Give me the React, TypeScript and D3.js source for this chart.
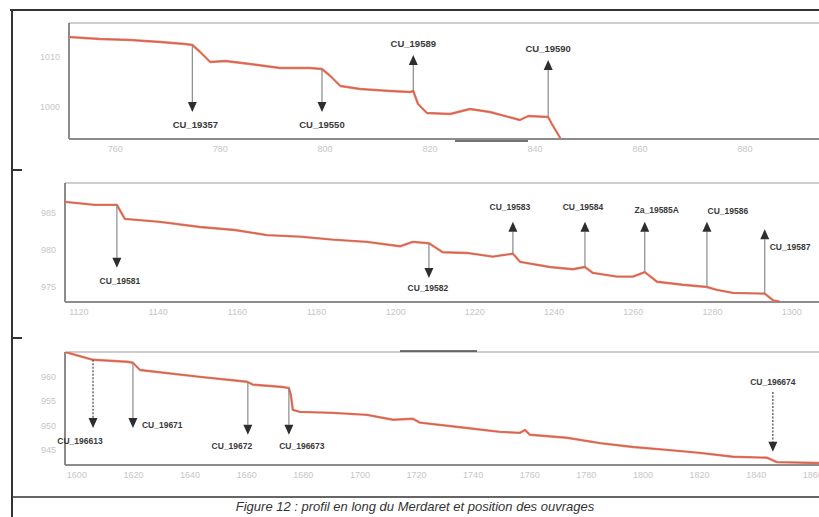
import * as d3 from "d3";
import React, { useEffect } from "react";

const W = 819;
const H = 517;

// ---- panel 1 : profil amont (distance m / altitude m)
const p1Dist = [751.2, 757.1, 762.9, 768.6, 773.3, 774.7, 776.2, 778.1, 781.0, 785.7, 791.4, 797.1, 799.4, 801.0, 802.9, 806.7, 812.4, 816.2, 816.8, 817.7, 819.4, 823.8, 827.6, 831.4, 837.1, 838.7, 842.5, 843.2, 844.8];
const p1Elev = [1014.0, 1013.6, 1013.4, 1013.0, 1012.6, 1012.4, 1011.0, 1009.0, 1009.2, 1008.6, 1007.8, 1007.8, 1007.6, 1006.2, 1004.2, 1003.6, 1003.2, 1003.0, 1003.2, 1000.6, 998.8, 998.6, 999.6, 999.0, 997.4, 998.2, 998.0, 996.6, 993.8];
const p1XTicks = [760, 780, 800, 820, 840, 860, 880];
const p1YTicks = [1010, 1000];
const p1Names = ["CU_19357", "CU_19550", "CU_19589", "CU_19590"];
const p1At = [774.7, 799.4, 816.8, 842.5];
const p1Tip = [999.0, 999.0, 1010.4, 1009.4];
const p1From: (number | null)[] = [null, null, null, null];

// ---- panel 2
const p2Dist = [1116.5, 1124.0, 1129.6, 1131.6, 1140.5, 1150.6, 1159.4, 1167.5, 1175.8, 1184.1, 1192.7, 1201.1, 1204.3, 1208.4, 1211.9, 1218.0, 1224.5, 1229.6, 1231.4, 1238.9, 1244.7, 1247.8, 1249.8, 1255.9, 1259.9, 1262.9, 1266.0, 1272.5, 1278.6, 1281.1, 1285.2, 1293.2, 1295.3, 1297.0];
const p2Elev = [986.5, 986.1, 986.1, 984.2, 983.8, 983.1, 982.7, 982.0, 981.8, 981.4, 981.1, 980.5, 981.1, 980.9, 979.7, 979.6, 979.1, 979.5, 978.4, 977.7, 977.4, 977.7, 976.9, 976.4, 976.4, 977.0, 975.7, 975.3, 975.0, 974.6, 974.2, 974.1, 973.2, 973.0];
const p2XTicks = [1120, 1140, 1160, 1180, 1200, 1220, 1240, 1260, 1280, 1300];
const p2YTicks = [985, 980, 975];
const p2Names = ["CU_19581", "CU_19582", "CU_19583", "CU_19584", "Za_19585A", "CU_19586", "CU_19587"];
const p2At = [1129.6, 1208.4, 1229.6, 1247.8, 1262.9, 1278.6, 1293.2];
const p2Tip = [977.6, 976.2, 983.8, 983.8, 983.8, 983.8, 982.8];
const p2From: (number | null)[] = [null, null, null, null, null, null, null];

// ---- panel 3
const p3Dist = [1595.8, 1605.7, 1617.7, 1619.8, 1622.3, 1643.5, 1660.1, 1662.2, 1672.8, 1674.9, 1675.6, 1676.3, 1678.8, 1690.5, 1702.5, 1711.7, 1718.7, 1721.2, 1737.8, 1749.5, 1756.5, 1758.3, 1760.1, 1773.1, 1784.8, 1796.5, 1808.5, 1820.1, 1831.8, 1843.8, 1847.3, 1862.2];
const p3Elev = [965.1, 963.5, 963.1, 962.9, 961.4, 960.0, 959.0, 958.4, 957.9, 957.7, 956.3, 953.2, 952.8, 952.6, 952.2, 951.2, 951.4, 950.6, 949.5, 948.7, 948.5, 949.1, 948.1, 947.5, 946.4, 945.6, 945.0, 944.4, 943.6, 943.4, 942.5, 942.3];
const p3XTicks = [1600, 1620, 1640, 1660, 1680, 1700, 1720, 1740, 1760, 1780, 1800, 1820, 1840, 1860];
const p3YTicks = [960, 955, 950, 945];
const p3Names = ["CU_196613", "CU_19671", "CU_19672", "CU_196673", "CU_196674"];
const p3At = [1605.7, 1619.8, 1660.4, 1674.9, 1845.9];
const p3Tip = [949.5, 949.5, 948.1, 948.1, 944.6];
const p3From: (number | null)[] = [null, null, null, null, 956.9];

const caption = "Figure 12 : profil en long du Merdaret et position des ouvrages";

// layout (pixels)
type Lbl = [number, number, string];
const panels = [
  {
    left: 69, top: 23, bottom: 139, xDom: [751.2, 894.1], yDom: [993.6, 1016.8],
    dist: p1Dist, elev: p1Elev, xTicks: p1XTicks, yTicks: p1YTicks,
    names: p1Names, at: p1At, tip: p1Tip, from: p1From, fs: 9.5,
    lbl: [[3, 16, "middle"], [0, 16, "middle"], [0, -8, "middle"], [0, -8, "middle"]] as Lbl[],
    dashed: [] as number[],
  },
  {
    left: 65, top: 183, bottom: 302, xDom: [1116.5, 1306.9], yDom: [972.97, 989.05],
    dist: p2Dist, elev: p2Elev, xTicks: p2XTicks, yTicks: p2YTicks,
    names: p2Names, at: p2At, tip: p2Tip, from: p2From, fs: 8.5,
    lbl: [[3, 16, "middle"], [-1, 13, "middle"], [-3, -12, "middle"], [-2, -12, "middle"], [12, -9, "middle"], [21, -8, "middle"], [5, 21, "start"]] as Lbl[],
    dashed: [] as number[],
  },
  {
    left: 65, top: 352, bottom: 465, xDom: [1595.8, 1862.2], yDom: [941.9, 965.1],
    dist: p3Dist, elev: p3Elev, xTicks: p3XTicks, yTicks: p3YTicks,
    names: p3Names, at: p3At, tip: p3Tip, from: p3From, fs: 8.5,
    lbl: [[-13, 16, "middle"], [9, 0, "start"], [-16, 14, "middle"], [13, 14, "middle"], [0, -67, "middle"]] as Lbl[],
    dashed: [0, 4],
  },
];

const elevAt = (dist: number[], elev: number[], x: number) => {
  const i = Math.max(1, Math.min(dist.length - 1, d3.bisectLeft(dist, x)));
  const t = (x - dist[i - 1]) / (dist[i] - dist[i - 1]);
  return elev[i - 1] + t * (elev[i] - elev[i - 1]);
};

const Panel = ({ p, idx }: { p: (typeof panels)[number]; idx: number }) => {
  const x = d3.scaleLinear().domain(p.xDom).range([p.left, W]);
  const y = d3.scaleLinear().domain(p.yDom).range([p.bottom, p.top]);
  const line = d3
    .line<number>()
    .x((d) => x(d))
    .y((_, i) => y(p.elev[i]));
  const pts = p.dist;
  return (
    <g>
      <defs>
        <clipPath id={"clip" + idx}>
          <rect x={p.left} y={p.top} width={W - p.left} height={p.bottom - p.top} />
        </clipPath>
      </defs>
      {/* frame */}
      <line x1={p.left} x2={W} y1={p.top} y2={p.top} stroke="#bdbdbd" strokeWidth={1.5} />
      <line x1={p.left} x2={p.left} y1={p.top} y2={p.bottom} stroke="#6e6e6e" strokeWidth={1.6} />
      <line x1={p.left} x2={W} y1={p.bottom} y2={p.bottom} stroke="#8c8c8c" strokeWidth={2} />
      {p.xTicks.map((t) => (
        <text key={t} x={x(t)} y={p.bottom + 13} fontSize={9} fill="#c6c6c6" textAnchor="middle"
          fontFamily="Liberation Sans, Arial, sans-serif">{t}</text>
      ))}
      {p.yTicks.map((t) => (
        <text key={t} x={p.left - 9} y={y(t) + 3} fontSize={9} fill="#c6c6c6" textAnchor="end"
          fontFamily="Liberation Sans, Arial, sans-serif">{t}</text>
      ))}
      <g clipPath={`url(#clip${idx})`}>
        <path d={line(pts) || ""} fill="none" stroke="#ef7a63" strokeWidth={2.4} strokeLinejoin="round" />
        <path d={line(pts) || ""} fill="none" stroke="#8a4336" strokeWidth={0.7} opacity={0.55} />
      </g>
      {p.names.map((n, i) => {
        const xi = x(p.at[i]);
        const f = p.from[i];
        const y0 = y(f == null ? elevAt(p.dist, p.elev, p.at[i]) : f);
        const yt = y(p.tip[i]);
        const down = yt > y0;
        const hl = 10;
        const yb = down ? yt - hl : yt + hl;
        const [dx, dy, anchor] = p.lbl[i];
        const dashed = p.dashed.includes(i);
        return (
          <g key={n}>
            <line x1={xi} x2={xi} y1={y0} y2={yb} stroke={dashed ? "#444" : "#8a8a8a"} strokeWidth={1.2}
              strokeDasharray={dashed ? "2,1.5" : undefined} />
            <path d={`M${xi - 4.5},${yb}L${xi + 4.5},${yb}L${xi},${yt}Z`} fill="#2e2e2e" />
            <text x={xi + dx} y={yt + dy} fontSize={p.fs} fill="#3a3a3a" textAnchor={anchor as any}
              fontWeight="bold" fontFamily="Liberation Sans, Arial, sans-serif">{n}</text>
          </g>
        );
      })}
    </g>
  );
};

export default function App() {
  useEffect(() => {
    document.body.style.margin = "0";
  }, []);
  return (
    <svg width={W} height={H} style={{ display: "block", position: "absolute", left: 0, top: 0, background: "#fff" }}>
      <rect width={W} height={H} fill="#fff" />
      {/* figure border */}
      <line x1={10} x2={W} y1={10} y2={10} stroke="#333" strokeWidth={2} />
      <line x1={12} x2={12} y1={10} y2={H} stroke="#333" strokeWidth={2} />
      <line x1={12} x2={22} y1={170} y2={170} stroke="#333" strokeWidth={2} />
      <line x1={12} x2={22} y1={338} y2={338} stroke="#333" strokeWidth={2} />
      <line x1={12} x2={W} y1={497} y2={497} stroke="#333" strokeWidth={1.5} />
      {panels.map((p, i) => (
        <Panel key={i} p={p} idx={i} />
      ))}
      {/* scan marks */}
      <line x1={455} x2={528} y1={141} y2={141} stroke="#444" strokeWidth={1.5} />
      <line x1={400} x2={477} y1={351} y2={351} stroke="#444" strokeWidth={1.5} />
      <text x={415} y={511} fontSize={13} fontStyle="italic" fill="#333" textAnchor="middle"
        fontFamily="Liberation Sans, Arial, sans-serif">{caption}</text>
    </svg>
  );
}
